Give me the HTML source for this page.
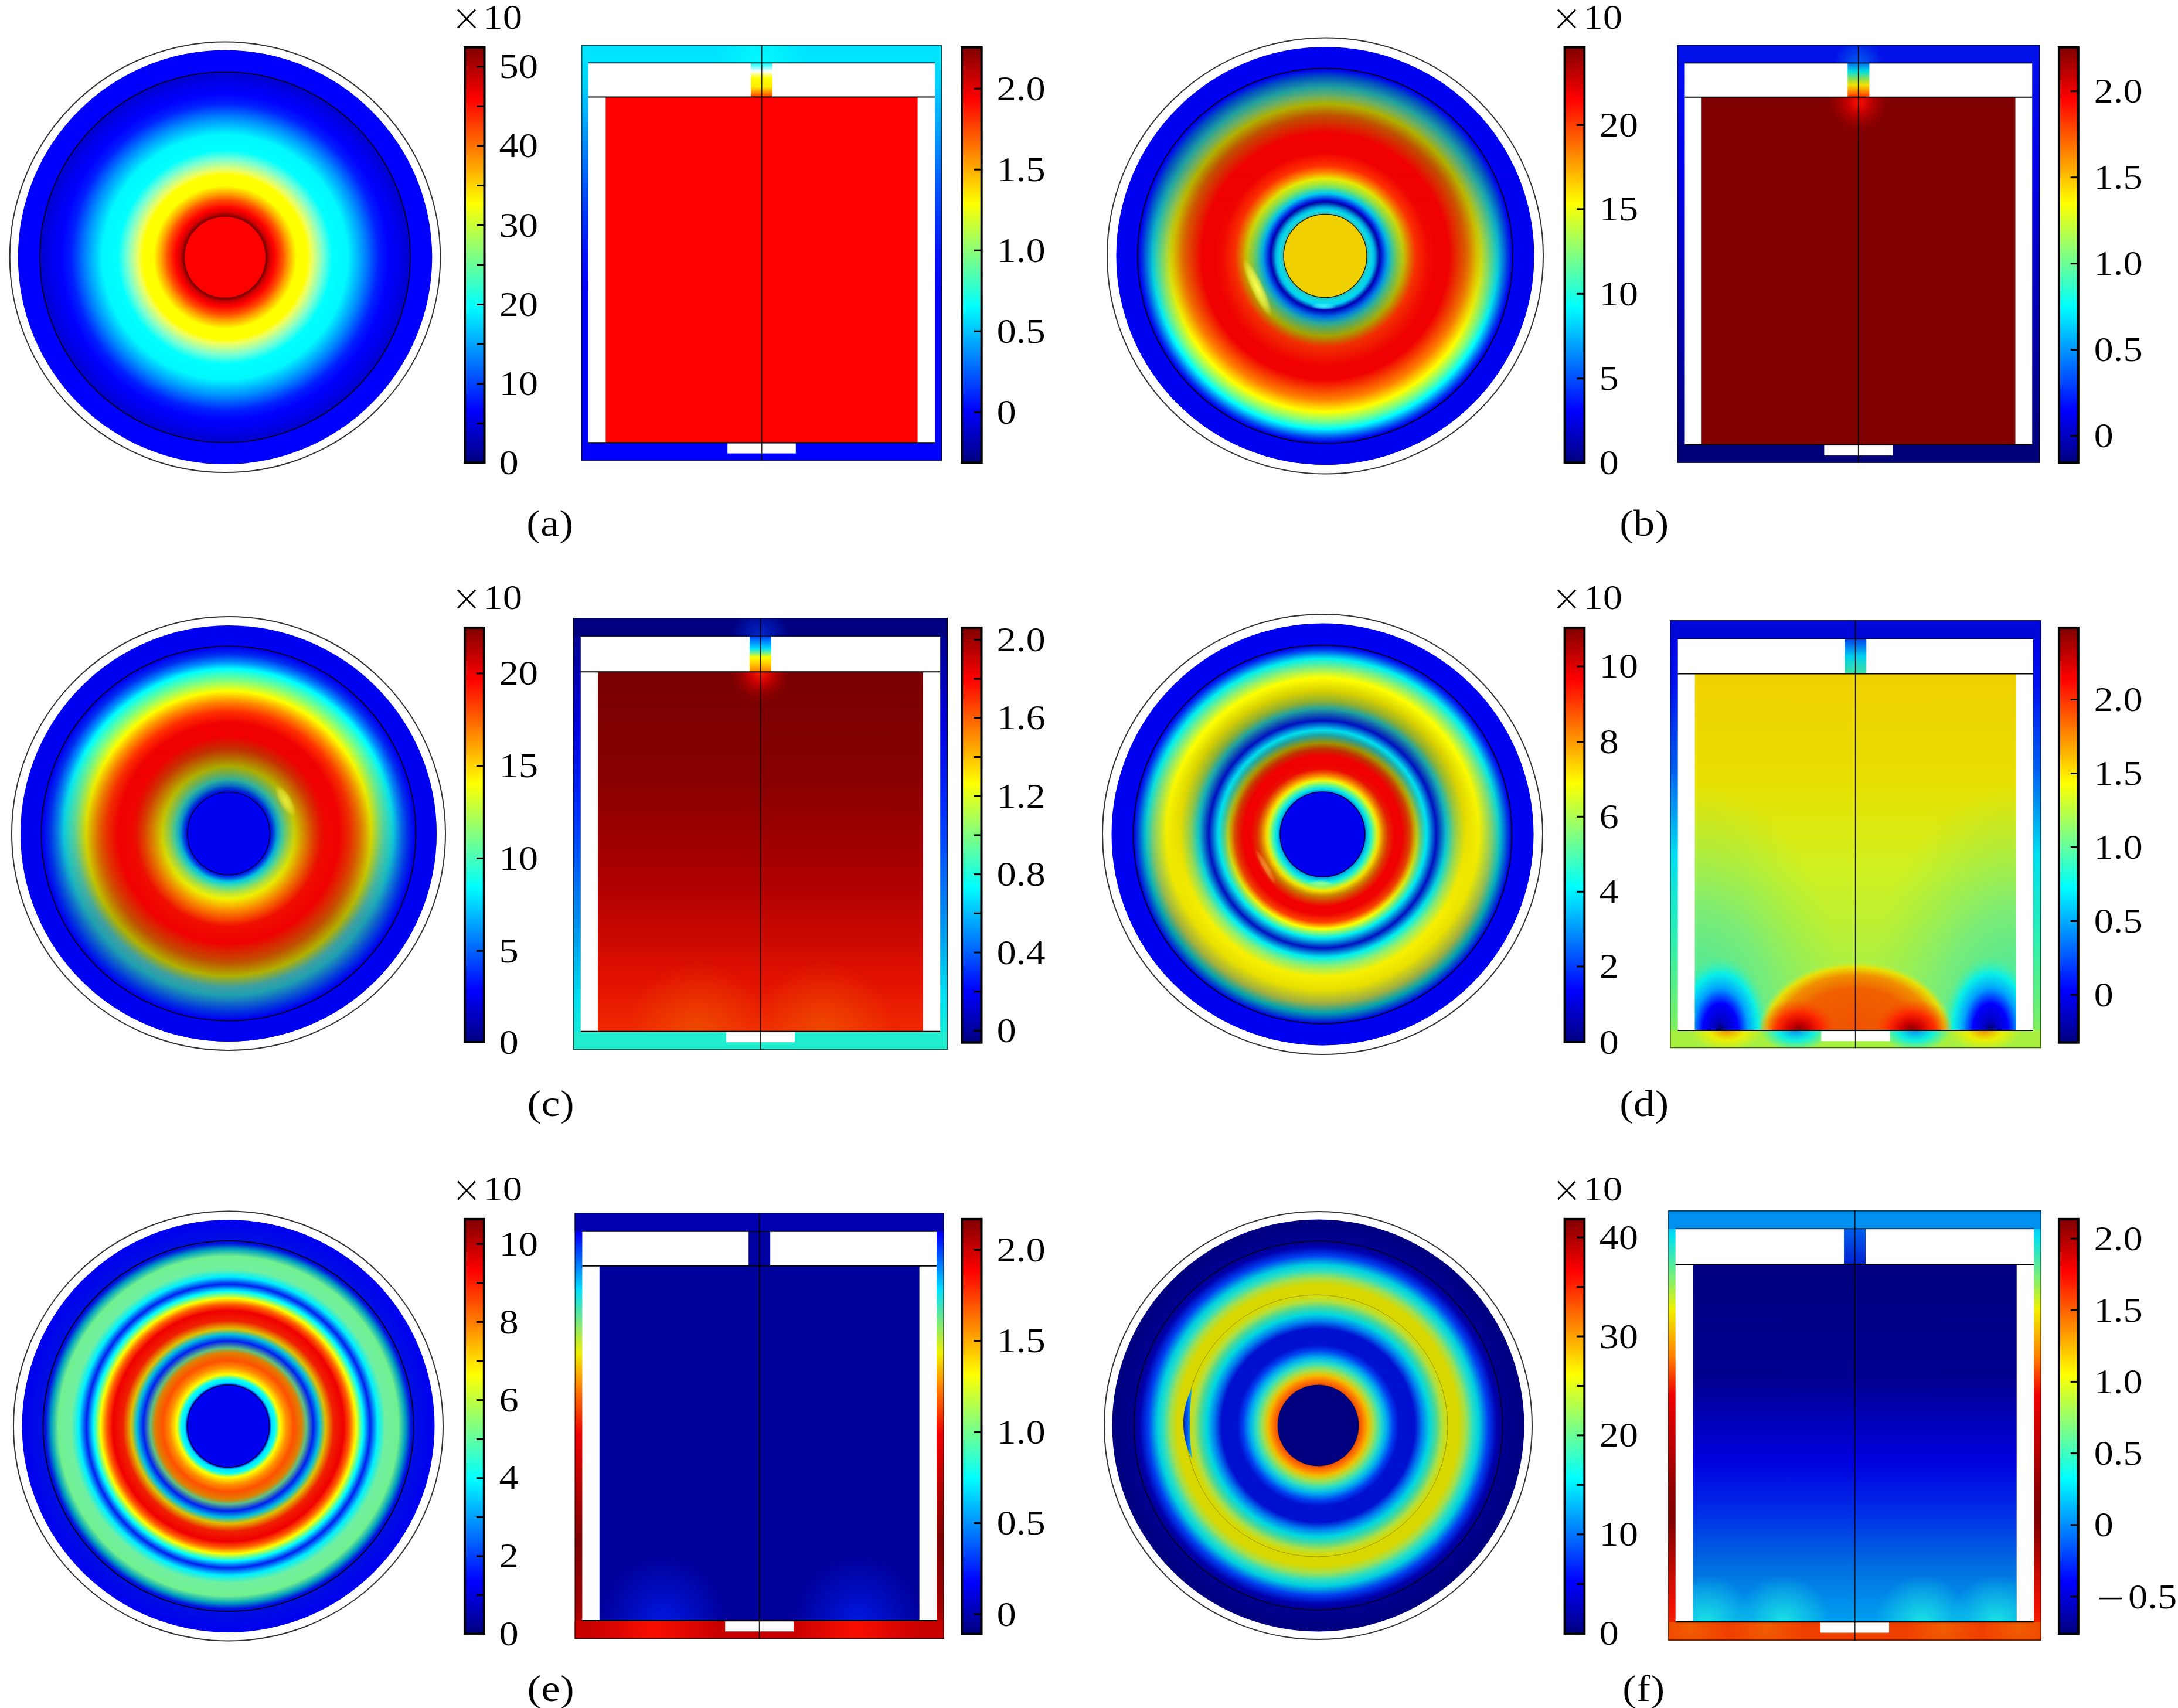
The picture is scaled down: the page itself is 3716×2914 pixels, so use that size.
<!DOCTYPE html>
<html><head><meta charset="utf-8"><style>
html,body{margin:0;padding:0;background:#fff;overflow:hidden;}
svg{display:block;}
text{font-family:"Liberation Serif",serif;fill:#000;stroke:#fff;stroke-width:0.2px;}
</style></head><body>
<svg width="3716" height="2914" viewBox="0 0 3716 2914">
<defs><radialGradient id="rg1" gradientUnits="userSpaceOnUse" cx="384" cy="438.8" r="353.3"><stop offset="0.0000" stop-color="#ff0000"/><stop offset="0.1967" stop-color="#700000"/><stop offset="0.2151" stop-color="#d00000"/><stop offset="0.2378" stop-color="#ff0000"/><stop offset="0.2774" stop-color="#ff5000"/><stop offset="0.3057" stop-color="#ffa000"/><stop offset="0.3453" stop-color="#ffff00"/><stop offset="0.3963" stop-color="#ffff00"/><stop offset="0.4189" stop-color="#f0ff60"/><stop offset="0.4699" stop-color="#80ffd0"/><stop offset="0.5180" stop-color="#00ffff"/><stop offset="0.5916" stop-color="#00f8ff"/><stop offset="0.6680" stop-color="#0090ff"/><stop offset="0.7416" stop-color="#0020ff"/><stop offset="0.7897" stop-color="#0000ff"/><stop offset="0.8491" stop-color="#0000e8"/><stop offset="0.8859" stop-color="#0000d0"/><stop offset="0.9029" stop-color="#0000ff"/><stop offset="1.0000" stop-color="#0000ff"/></radialGradient>
<linearGradient id="lg2" x1="0" y1="0" x2="0" y2="1"><stop offset="0.0000" stop-color="#800000"/><stop offset="0.0625" stop-color="#bf0000"/><stop offset="0.1250" stop-color="#ff0000"/><stop offset="0.1875" stop-color="#ff4000"/><stop offset="0.2500" stop-color="#ff8000"/><stop offset="0.3125" stop-color="#ffbf00"/><stop offset="0.3750" stop-color="#ffff00"/><stop offset="0.4375" stop-color="#bfff40"/><stop offset="0.5000" stop-color="#80ff80"/><stop offset="0.5625" stop-color="#40ffbf"/><stop offset="0.6250" stop-color="#00ffff"/><stop offset="0.6875" stop-color="#00bfff"/><stop offset="0.7500" stop-color="#0080ff"/><stop offset="0.8125" stop-color="#0040ff"/><stop offset="0.8750" stop-color="#0000ff"/><stop offset="0.9375" stop-color="#0000bf"/><stop offset="1.0000" stop-color="#000080"/></linearGradient>
<linearGradient id="lg3" x1="0" y1="0" x2="0" y2="1"><stop offset="0.0000" stop-color="#00e4ff"/><stop offset="0.0800" stop-color="#00d8ff"/><stop offset="0.2000" stop-color="#00a0ff"/><stop offset="0.3500" stop-color="#0050ff"/><stop offset="0.5000" stop-color="#0010ff"/><stop offset="0.6000" stop-color="#0000ff"/><stop offset="1.0000" stop-color="#0000ff"/></linearGradient>
<linearGradient id="lg4" x1="0" y1="0" x2="0" y2="1"><stop offset="0.0000" stop-color="#00ffff"/><stop offset="0.2500" stop-color="#ffffff"/><stop offset="0.4500" stop-color="#ffff00"/><stop offset="0.7000" stop-color="#ffee00"/><stop offset="1.0000" stop-color="#ff4000"/></linearGradient>
<clipPath id="clip5"><rect x="992" y="77" width="615" height="30.2"/></clipPath>
<radialGradient id="rg6" gradientUnits="userSpaceOnUse" cx="1299.5" cy="107.2" r="80"><stop offset="0.0000" stop-color="#00ffff" stop-opacity="0.8"/><stop offset="1.0000" stop-color="#00ffff" stop-opacity="0"/></radialGradient>
<linearGradient id="lg7" x1="0" y1="0" x2="0" y2="1"><stop offset="0.0000" stop-color="#800000"/><stop offset="0.0625" stop-color="#bf0000"/><stop offset="0.1250" stop-color="#ff0000"/><stop offset="0.1875" stop-color="#ff4000"/><stop offset="0.2500" stop-color="#ff8000"/><stop offset="0.3125" stop-color="#ffbf00"/><stop offset="0.3750" stop-color="#ffff00"/><stop offset="0.4375" stop-color="#bfff40"/><stop offset="0.5000" stop-color="#80ff80"/><stop offset="0.5625" stop-color="#40ffbf"/><stop offset="0.6250" stop-color="#00ffff"/><stop offset="0.6875" stop-color="#00bfff"/><stop offset="0.7500" stop-color="#0080ff"/><stop offset="0.8125" stop-color="#0040ff"/><stop offset="0.8750" stop-color="#0000ff"/><stop offset="0.9375" stop-color="#0000bf"/><stop offset="1.0000" stop-color="#000080"/></linearGradient>
<radialGradient id="rg8" gradientUnits="userSpaceOnUse" cx="2261" cy="436.5" r="356.5"><stop offset="0.0000" stop-color="#f0d000"/><stop offset="0.1964" stop-color="#f0d000"/><stop offset="0.2020" stop-color="#40c0c0"/><stop offset="0.2188" stop-color="#00e0f0"/><stop offset="0.2581" stop-color="#0000a0"/><stop offset="0.2693" stop-color="#0020f0"/><stop offset="0.3001" stop-color="#00e0f0"/><stop offset="0.3394" stop-color="#a0f040"/><stop offset="0.3703" stop-color="#f0f000"/><stop offset="0.3955" stop-color="#ff9000"/><stop offset="0.4320" stop-color="#ff3000"/><stop offset="0.4937" stop-color="#f00000"/><stop offset="0.5863" stop-color="#f00000"/><stop offset="0.6704" stop-color="#c05000"/><stop offset="0.7265" stop-color="#b0b000"/><stop offset="0.7630" stop-color="#70b060"/><stop offset="0.8079" stop-color="#20a0a0"/><stop offset="0.8583" stop-color="#0050c0"/><stop offset="0.8920" stop-color="#0000f0"/><stop offset="1.0000" stop-color="#0000f0"/></radialGradient>
<radialGradient id="rg9" gradientUnits="userSpaceOnUse" cx="2261" cy="436.5" r="356.5"><stop offset="0.0000" stop-color="#f0d000"/><stop offset="0.1964" stop-color="#f0d000"/><stop offset="0.2020" stop-color="#20c0c0"/><stop offset="0.2356" stop-color="#00f0ff"/><stop offset="0.2609" stop-color="#0000b0"/><stop offset="0.2917" stop-color="#0060e0"/><stop offset="0.3226" stop-color="#20a0a0"/><stop offset="0.3843" stop-color="#a0a000"/><stop offset="0.4348" stop-color="#f03000"/><stop offset="0.5302" stop-color="#f00000"/><stop offset="0.5919" stop-color="#f00000"/><stop offset="0.6872" stop-color="#ff8000"/><stop offset="0.7461" stop-color="#ffff00"/><stop offset="0.7910" stop-color="#80ff80"/><stop offset="0.8275" stop-color="#00ffff"/><stop offset="0.8724" stop-color="#0040f0"/><stop offset="0.8920" stop-color="#0000f0"/><stop offset="1.0000" stop-color="#0000f0"/></radialGradient>
<linearGradient id="mlg10" gradientUnits="userSpaceOnUse" x1="0" y1="286.5" x2="0" y2="586.5"><stop offset="0" stop-color="#fff" stop-opacity="0"/><stop offset="1" stop-color="#fff" stop-opacity="1"/></linearGradient>
<mask id="mask11" maskUnits="userSpaceOnUse" x="1904.5" y="80" width="713" height="713"><rect x="1904.5" y="80" width="713" height="713" fill="url(#mlg10)"/></mask>
<radialGradient id="rg12" gradientUnits="objectBoundingBox" cx="0.5" cy="0.5" r="0.5"><stop offset="0.0000" stop-color="#ffff50" stop-opacity="1"/><stop offset="0.6000" stop-color="#ffff50" stop-opacity="0.6"/><stop offset="1.0000" stop-color="#ffff50" stop-opacity="0"/></radialGradient>
<radialGradient id="rg13" gradientUnits="objectBoundingBox" cx="0.5" cy="0.5" r="0.5"><stop offset="0.0000" stop-color="#40f0ff" stop-opacity="0.95"/><stop offset="0.6000" stop-color="#40f0ff" stop-opacity="0.57"/><stop offset="1.0000" stop-color="#40f0ff" stop-opacity="0"/></radialGradient>
<linearGradient id="lg14" x1="0" y1="0" x2="0" y2="1"><stop offset="0.0000" stop-color="#800000"/><stop offset="0.0625" stop-color="#bf0000"/><stop offset="0.1250" stop-color="#ff0000"/><stop offset="0.1875" stop-color="#ff4000"/><stop offset="0.2500" stop-color="#ff8000"/><stop offset="0.3125" stop-color="#ffbf00"/><stop offset="0.3750" stop-color="#ffff00"/><stop offset="0.4375" stop-color="#bfff40"/><stop offset="0.5000" stop-color="#80ff80"/><stop offset="0.5625" stop-color="#40ffbf"/><stop offset="0.6250" stop-color="#00ffff"/><stop offset="0.6875" stop-color="#00bfff"/><stop offset="0.7500" stop-color="#0080ff"/><stop offset="0.8125" stop-color="#0040ff"/><stop offset="0.8750" stop-color="#0000ff"/><stop offset="0.9375" stop-color="#0000bf"/><stop offset="1.0000" stop-color="#000080"/></linearGradient>
<linearGradient id="lg15" x1="0" y1="0" x2="0" y2="1"><stop offset="0.0000" stop-color="#0010f0"/><stop offset="0.3000" stop-color="#0000e8"/><stop offset="0.6000" stop-color="#0000b8"/><stop offset="1.0000" stop-color="#000078"/></linearGradient>
<linearGradient id="lg16" x1="0" y1="0" x2="0" y2="1"><stop offset="0.0000" stop-color="#0070f0"/><stop offset="0.2500" stop-color="#00e0e0"/><stop offset="0.5000" stop-color="#a0e040"/><stop offset="0.6500" stop-color="#f0e000"/><stop offset="0.8500" stop-color="#ff8000"/><stop offset="1.0000" stop-color="#ff3000"/></linearGradient>
<clipPath id="clip17"><rect x="2861.7" y="76.9" width="618.3" height="30.5"/></clipPath>
<radialGradient id="rg18" gradientUnits="userSpaceOnUse" cx="3170.85" cy="107.4" r="42"><stop offset="0.0000" stop-color="#0070f0" stop-opacity="0.8"/><stop offset="1.0000" stop-color="#0070f0" stop-opacity="0"/></radialGradient>
<clipPath id="clip19"><rect x="2903.2" y="165.8" width="535.3" height="593"/></clipPath>
<radialGradient id="rg20" gradientUnits="userSpaceOnUse" cx="3170.85" cy="173.8" r="60"><stop offset="0.0000" stop-color="#ff1000" stop-opacity="1"/><stop offset="0.3500" stop-color="#d00000" stop-opacity="0.8"/><stop offset="1.0000" stop-color="#800000" stop-opacity="0"/></radialGradient>
<linearGradient id="lg21" x1="0" y1="0" x2="0" y2="1"><stop offset="0.0000" stop-color="#800000"/><stop offset="0.0625" stop-color="#bf0000"/><stop offset="0.1250" stop-color="#ff0000"/><stop offset="0.1875" stop-color="#ff4000"/><stop offset="0.2500" stop-color="#ff8000"/><stop offset="0.3125" stop-color="#ffbf00"/><stop offset="0.3750" stop-color="#ffff00"/><stop offset="0.4375" stop-color="#bfff40"/><stop offset="0.5000" stop-color="#80ff80"/><stop offset="0.5625" stop-color="#40ffbf"/><stop offset="0.6250" stop-color="#00ffff"/><stop offset="0.6875" stop-color="#00bfff"/><stop offset="0.7500" stop-color="#0080ff"/><stop offset="0.8125" stop-color="#0040ff"/><stop offset="0.8750" stop-color="#0000ff"/><stop offset="0.9375" stop-color="#0000bf"/><stop offset="1.0000" stop-color="#000080"/></linearGradient>
<radialGradient id="rg22" gradientUnits="userSpaceOnUse" cx="390" cy="1422" r="355"><stop offset="0.0000" stop-color="#0000f0"/><stop offset="0.1972" stop-color="#0000f0"/><stop offset="0.2085" stop-color="#0010d0"/><stop offset="0.2169" stop-color="#0020c0"/><stop offset="0.2592" stop-color="#20a0a0"/><stop offset="0.3239" stop-color="#a0a000"/><stop offset="0.4056" stop-color="#c03000"/><stop offset="0.4676" stop-color="#f00000"/><stop offset="0.5296" stop-color="#f00000"/><stop offset="0.5859" stop-color="#ff3000"/><stop offset="0.6366" stop-color="#ff9000"/><stop offset="0.6845" stop-color="#ffff00"/><stop offset="0.7352" stop-color="#80ff80"/><stop offset="0.7915" stop-color="#00ffff"/><stop offset="0.8225" stop-color="#0090ff"/><stop offset="0.8592" stop-color="#0030f0"/><stop offset="0.8930" stop-color="#0000f0"/><stop offset="1.0000" stop-color="#0000f0"/></radialGradient>
<radialGradient id="rg23" gradientUnits="userSpaceOnUse" cx="390" cy="1422" r="355"><stop offset="0.0000" stop-color="#0000f0"/><stop offset="0.1972" stop-color="#0000f0"/><stop offset="0.2085" stop-color="#0040f0"/><stop offset="0.2324" stop-color="#00f0f0"/><stop offset="0.2817" stop-color="#c0f040"/><stop offset="0.3141" stop-color="#ffff00"/><stop offset="0.3704" stop-color="#ff9000"/><stop offset="0.4451" stop-color="#f01000"/><stop offset="0.5268" stop-color="#f00000"/><stop offset="0.6197" stop-color="#c05000"/><stop offset="0.6845" stop-color="#b0b000"/><stop offset="0.7380" stop-color="#40a0a0"/><stop offset="0.7775" stop-color="#20a0b0"/><stop offset="0.8592" stop-color="#0030e0"/><stop offset="0.8930" stop-color="#0000f0"/><stop offset="1.0000" stop-color="#0000f0"/></radialGradient>
<linearGradient id="mlg24" gradientUnits="userSpaceOnUse" x1="0" y1="1272" x2="0" y2="1572"><stop offset="0" stop-color="#fff" stop-opacity="0"/><stop offset="1" stop-color="#fff" stop-opacity="1"/></linearGradient>
<mask id="mask25" maskUnits="userSpaceOnUse" x="35" y="1067" width="710" height="710"><rect x="35" y="1067" width="710" height="710" fill="url(#mlg24)"/></mask>
<radialGradient id="rg26" gradientUnits="objectBoundingBox" cx="0.5" cy="0.5" r="0.5"><stop offset="0.0000" stop-color="#f0f040" stop-opacity="0.9"/><stop offset="0.6000" stop-color="#f0f040" stop-opacity="0.54"/><stop offset="1.0000" stop-color="#f0f040" stop-opacity="0"/></radialGradient>
<linearGradient id="lg27" x1="0" y1="0" x2="0" y2="1"><stop offset="0.0000" stop-color="#800000"/><stop offset="0.0625" stop-color="#bf0000"/><stop offset="0.1250" stop-color="#ff0000"/><stop offset="0.1875" stop-color="#ff4000"/><stop offset="0.2500" stop-color="#ff8000"/><stop offset="0.3125" stop-color="#ffbf00"/><stop offset="0.3750" stop-color="#ffff00"/><stop offset="0.4375" stop-color="#bfff40"/><stop offset="0.5000" stop-color="#80ff80"/><stop offset="0.5625" stop-color="#40ffbf"/><stop offset="0.6250" stop-color="#00ffff"/><stop offset="0.6875" stop-color="#00bfff"/><stop offset="0.7500" stop-color="#0080ff"/><stop offset="0.8125" stop-color="#0040ff"/><stop offset="0.8750" stop-color="#0000ff"/><stop offset="0.9375" stop-color="#0000bf"/><stop offset="1.0000" stop-color="#000080"/></linearGradient>
<linearGradient id="lg28" x1="0" y1="0" x2="0" y2="1"><stop offset="0.0000" stop-color="#000080"/><stop offset="0.2500" stop-color="#0000e0"/><stop offset="0.4500" stop-color="#0030ff"/><stop offset="0.7000" stop-color="#0090f0"/><stop offset="0.8800" stop-color="#00e0f0"/><stop offset="1.0000" stop-color="#20f0d0"/></linearGradient>
<linearGradient id="lg29" x1="0" y1="0" x2="0" y2="1"><stop offset="0.0000" stop-color="#780000"/><stop offset="0.3000" stop-color="#880000"/><stop offset="0.6000" stop-color="#b00000"/><stop offset="0.8500" stop-color="#e01000"/><stop offset="1.0000" stop-color="#f02800"/></linearGradient>
<linearGradient id="lg30" x1="0" y1="0" x2="0" y2="1"><stop offset="0.0000" stop-color="#0040ff"/><stop offset="0.3500" stop-color="#00e0ff"/><stop offset="0.6000" stop-color="#ffff00"/><stop offset="1.0000" stop-color="#ff8000"/></linearGradient>
<clipPath id="clip31"><rect x="978" y="1054" width="639" height="31.6"/></clipPath>
<radialGradient id="rg32" gradientUnits="userSpaceOnUse" cx="1297.5" cy="1085.6" r="50"><stop offset="0.0000" stop-color="#0040ff" stop-opacity="0.6"/><stop offset="1.0000" stop-color="#0040ff" stop-opacity="0"/></radialGradient>
<clipPath id="clip33"><rect x="1020.2" y="1146.2" width="554.6" height="613.7"/></clipPath>
<radialGradient id="rg34" gradientUnits="userSpaceOnUse" cx="1297.5" cy="1146.2" r="55"><stop offset="0.0000" stop-color="#ff2000" stop-opacity="1"/><stop offset="0.3500" stop-color="#e00000" stop-opacity="0.8"/><stop offset="1.0000" stop-color="#900000" stop-opacity="0"/></radialGradient>
<radialGradient id="rg35" gradientUnits="userSpaceOnUse" cx="1190.2" cy="1759.9" r="120"><stop offset="0.0000" stop-color="#f06000" stop-opacity="0.6"/><stop offset="1.0000" stop-color="#f06000" stop-opacity="0"/></radialGradient>
<radialGradient id="rg36" gradientUnits="userSpaceOnUse" cx="1404.8" cy="1759.9" r="120"><stop offset="0.0000" stop-color="#f06000" stop-opacity="0.6"/><stop offset="1.0000" stop-color="#f06000" stop-opacity="0"/></radialGradient>
<linearGradient id="lg37" x1="0" y1="0" x2="0" y2="1"><stop offset="0.0000" stop-color="#800000"/><stop offset="0.0625" stop-color="#bf0000"/><stop offset="0.1250" stop-color="#ff0000"/><stop offset="0.1875" stop-color="#ff4000"/><stop offset="0.2500" stop-color="#ff8000"/><stop offset="0.3125" stop-color="#ffbf00"/><stop offset="0.3750" stop-color="#ffff00"/><stop offset="0.4375" stop-color="#bfff40"/><stop offset="0.5000" stop-color="#80ff80"/><stop offset="0.5625" stop-color="#40ffbf"/><stop offset="0.6250" stop-color="#00ffff"/><stop offset="0.6875" stop-color="#00bfff"/><stop offset="0.7500" stop-color="#0080ff"/><stop offset="0.8125" stop-color="#0040ff"/><stop offset="0.8750" stop-color="#0000ff"/><stop offset="0.9375" stop-color="#0000bf"/><stop offset="1.0000" stop-color="#000080"/></linearGradient>
<radialGradient id="rg38" gradientUnits="userSpaceOnUse" cx="2256.5" cy="1423.5" r="360"><stop offset="0.0000" stop-color="#0000f0"/><stop offset="0.2000" stop-color="#0000f0"/><stop offset="0.2056" stop-color="#00a0e0"/><stop offset="0.2167" stop-color="#00f0f0"/><stop offset="0.2542" stop-color="#ffff00"/><stop offset="0.2778" stop-color="#ff8000"/><stop offset="0.3111" stop-color="#f00000"/><stop offset="0.3722" stop-color="#f00000"/><stop offset="0.4028" stop-color="#c03000"/><stop offset="0.4333" stop-color="#a09000"/><stop offset="0.4694" stop-color="#20a0a0"/><stop offset="0.4944" stop-color="#00e0f0"/><stop offset="0.5389" stop-color="#0010c0"/><stop offset="0.5944" stop-color="#20a0a0"/><stop offset="0.6306" stop-color="#90b030"/><stop offset="0.6806" stop-color="#d8d000"/><stop offset="0.7417" stop-color="#ffff00"/><stop offset="0.7917" stop-color="#80f080"/><stop offset="0.8333" stop-color="#00f0f0"/><stop offset="0.8778" stop-color="#0030f0"/><stop offset="0.8944" stop-color="#0000f0"/><stop offset="1.0000" stop-color="#0000f0"/></radialGradient>
<radialGradient id="rg39" gradientUnits="userSpaceOnUse" cx="2256.5" cy="1423.5" r="360"><stop offset="0.0000" stop-color="#0000f0"/><stop offset="0.2000" stop-color="#0000f0"/><stop offset="0.2056" stop-color="#00a0e0"/><stop offset="0.2306" stop-color="#00f0f0"/><stop offset="0.2667" stop-color="#f0f000"/><stop offset="0.2917" stop-color="#c09000"/><stop offset="0.3417" stop-color="#f00000"/><stop offset="0.3778" stop-color="#f00000"/><stop offset="0.4167" stop-color="#ff4000"/><stop offset="0.4472" stop-color="#ffff00"/><stop offset="0.4903" stop-color="#00f0f0"/><stop offset="0.5389" stop-color="#0010c0"/><stop offset="0.5833" stop-color="#00f0f0"/><stop offset="0.6250" stop-color="#90f070"/><stop offset="0.6750" stop-color="#f8f000"/><stop offset="0.7361" stop-color="#e8e000"/><stop offset="0.8000" stop-color="#a0b040"/><stop offset="0.8472" stop-color="#00a0b0"/><stop offset="0.8833" stop-color="#0030d0"/><stop offset="0.8944" stop-color="#0000f0"/><stop offset="1.0000" stop-color="#0000f0"/></radialGradient>
<linearGradient id="mlg40" gradientUnits="userSpaceOnUse" x1="0" y1="1273.5" x2="0" y2="1573.5"><stop offset="0" stop-color="#fff" stop-opacity="0"/><stop offset="1" stop-color="#fff" stop-opacity="1"/></linearGradient>
<mask id="mask41" maskUnits="userSpaceOnUse" x="1896.5" y="1063.5" width="720" height="720"><rect x="1896.5" y="1063.5" width="720" height="720" fill="url(#mlg40)"/></mask>
<radialGradient id="rg42" gradientUnits="objectBoundingBox" cx="0.5" cy="0.5" r="0.5"><stop offset="0.0000" stop-color="#a0ff80" stop-opacity="0.9"/><stop offset="0.6000" stop-color="#a0ff80" stop-opacity="0.54"/><stop offset="1.0000" stop-color="#a0ff80" stop-opacity="0"/></radialGradient>
<radialGradient id="rg43" gradientUnits="objectBoundingBox" cx="0.5" cy="0.5" r="0.5"><stop offset="0.0000" stop-color="#ffb040" stop-opacity="0.7"/><stop offset="0.6000" stop-color="#ffb040" stop-opacity="0.42"/><stop offset="1.0000" stop-color="#ffb040" stop-opacity="0"/></radialGradient>
<linearGradient id="lg44" x1="0" y1="0" x2="0" y2="1"><stop offset="0.0000" stop-color="#800000"/><stop offset="0.0625" stop-color="#bf0000"/><stop offset="0.1250" stop-color="#ff0000"/><stop offset="0.1875" stop-color="#ff4000"/><stop offset="0.2500" stop-color="#ff8000"/><stop offset="0.3125" stop-color="#ffbf00"/><stop offset="0.3750" stop-color="#ffff00"/><stop offset="0.4375" stop-color="#bfff40"/><stop offset="0.5000" stop-color="#80ff80"/><stop offset="0.5625" stop-color="#40ffbf"/><stop offset="0.6250" stop-color="#00ffff"/><stop offset="0.6875" stop-color="#00bfff"/><stop offset="0.7500" stop-color="#0080ff"/><stop offset="0.8125" stop-color="#0040ff"/><stop offset="0.8750" stop-color="#0000ff"/><stop offset="0.9375" stop-color="#0000bf"/><stop offset="1.0000" stop-color="#000080"/></linearGradient>
<linearGradient id="lg45" x1="0" y1="0" x2="0" y2="1"><stop offset="0.0000" stop-color="#0000e0"/><stop offset="0.1500" stop-color="#0010f0"/><stop offset="0.3500" stop-color="#0060f0"/><stop offset="0.5500" stop-color="#00e0f0"/><stop offset="0.7500" stop-color="#30f0b0"/><stop offset="1.0000" stop-color="#90f050"/></linearGradient>
<linearGradient id="lg46" x1="0" y1="0" x2="0" y2="1"><stop offset="0.0000" stop-color="#f0d000"/><stop offset="0.3000" stop-color="#e8e000"/><stop offset="0.5500" stop-color="#d0f020"/><stop offset="0.8000" stop-color="#b0f040"/><stop offset="1.0000" stop-color="#a0f050"/></linearGradient>
<linearGradient id="lg47" x1="0" y1="0" x2="0" y2="1"><stop offset="0.0000" stop-color="#0040f0"/><stop offset="0.5000" stop-color="#00d0f0"/><stop offset="1.0000" stop-color="#40e0a0"/></linearGradient>
<clipPath id="clip48"><rect x="2849.1" y="1758" width="633.4" height="30.2"/></clipPath>
<radialGradient id="rg49" gradientUnits="objectBoundingBox" cx="0.5" cy="0.5" r="0.5"><stop offset="0.0000" stop-color="#f09000" stop-opacity="1"/><stop offset="0.5000" stop-color="#f0f000" stop-opacity="0.9"/><stop offset="1.0000" stop-color="#f0f000" stop-opacity="0"/></radialGradient>
<radialGradient id="rg50" gradientUnits="objectBoundingBox" cx="0.5" cy="0.5" r="0.5"><stop offset="0.0000" stop-color="#f09000" stop-opacity="1"/><stop offset="0.5000" stop-color="#f0f000" stop-opacity="0.9"/><stop offset="1.0000" stop-color="#f0f000" stop-opacity="0"/></radialGradient>
<radialGradient id="rg51" gradientUnits="objectBoundingBox" cx="0.5" cy="0.5" r="0.5"><stop offset="0.0000" stop-color="#0090f0" stop-opacity="1"/><stop offset="0.5000" stop-color="#00f0f0" stop-opacity="0.9"/><stop offset="1.0000" stop-color="#00f0f0" stop-opacity="0"/></radialGradient>
<radialGradient id="rg52" gradientUnits="objectBoundingBox" cx="0.5" cy="0.5" r="0.5"><stop offset="0.0000" stop-color="#0090f0" stop-opacity="1"/><stop offset="0.5000" stop-color="#00f0f0" stop-opacity="0.9"/><stop offset="1.0000" stop-color="#00f0f0" stop-opacity="0"/></radialGradient>
<clipPath id="clip53"><rect x="2891.7" y="1149.5" width="548.2" height="608.5"/></clipPath>
<radialGradient id="rg54" gradientUnits="objectBoundingBox" cx="0.5" cy="0.5" r="0.5"><stop offset="0.0000" stop-color="#20e8c0" stop-opacity="0.9"/><stop offset="0.5000" stop-color="#50e8a0" stop-opacity="0.6"/><stop offset="1.0000" stop-color="#80f060" stop-opacity="0"/></radialGradient>
<radialGradient id="rg55" gradientUnits="objectBoundingBox" cx="0.5" cy="0.5" r="0.5"><stop offset="0.0000" stop-color="#20e8c0" stop-opacity="0.9"/><stop offset="0.5000" stop-color="#50e8a0" stop-opacity="0.6"/><stop offset="1.0000" stop-color="#80f060" stop-opacity="0"/></radialGradient>
<radialGradient id="rg56" gradientUnits="objectBoundingBox" cx="0.5" cy="0.5" r="0.5"><stop offset="0.0000" stop-color="#000060" stop-opacity="1"/><stop offset="0.1200" stop-color="#0000c0" stop-opacity="1"/><stop offset="0.3500" stop-color="#0000ff" stop-opacity="1"/><stop offset="0.5500" stop-color="#00a0ff" stop-opacity="1"/><stop offset="0.7500" stop-color="#00f0f0" stop-opacity="0.9"/><stop offset="1.0000" stop-color="#60f090" stop-opacity="0"/></radialGradient>
<radialGradient id="rg57" gradientUnits="objectBoundingBox" cx="0.5" cy="0.5" r="0.5"><stop offset="0.0000" stop-color="#000060" stop-opacity="1"/><stop offset="0.1200" stop-color="#0000c0" stop-opacity="1"/><stop offset="0.3500" stop-color="#0000ff" stop-opacity="1"/><stop offset="0.5500" stop-color="#00a0ff" stop-opacity="1"/><stop offset="0.7500" stop-color="#00f0f0" stop-opacity="0.9"/><stop offset="1.0000" stop-color="#60f090" stop-opacity="0"/></radialGradient>
<radialGradient id="rg58" gradientUnits="objectBoundingBox" cx="0.5" cy="0.5" r="0.5"><stop offset="0.0000" stop-color="#f05000" stop-opacity="1"/><stop offset="0.6000" stop-color="#f06000" stop-opacity="1"/><stop offset="0.8000" stop-color="#f09000" stop-opacity="1"/><stop offset="0.9200" stop-color="#f0e000" stop-opacity="0.9"/><stop offset="1.0000" stop-color="#c0f040" stop-opacity="0"/></radialGradient>
<radialGradient id="rg59" gradientUnits="objectBoundingBox" cx="0.5" cy="0.5" r="0.5"><stop offset="0.0000" stop-color="#800000" stop-opacity="1"/><stop offset="0.2500" stop-color="#d00000" stop-opacity="1"/><stop offset="0.5500" stop-color="#ff2000" stop-opacity="0.9"/><stop offset="1.0000" stop-color="#f06000" stop-opacity="0"/></radialGradient>
<radialGradient id="rg60" gradientUnits="objectBoundingBox" cx="0.5" cy="0.5" r="0.5"><stop offset="0.0000" stop-color="#800000" stop-opacity="1"/><stop offset="0.2500" stop-color="#d00000" stop-opacity="1"/><stop offset="0.5500" stop-color="#ff2000" stop-opacity="0.9"/><stop offset="1.0000" stop-color="#f06000" stop-opacity="0"/></radialGradient>
<linearGradient id="lg61" x1="0" y1="0" x2="0" y2="1"><stop offset="0.0000" stop-color="#800000"/><stop offset="0.0625" stop-color="#bf0000"/><stop offset="0.1250" stop-color="#ff0000"/><stop offset="0.1875" stop-color="#ff4000"/><stop offset="0.2500" stop-color="#ff8000"/><stop offset="0.3125" stop-color="#ffbf00"/><stop offset="0.3750" stop-color="#ffff00"/><stop offset="0.4375" stop-color="#bfff40"/><stop offset="0.5000" stop-color="#80ff80"/><stop offset="0.5625" stop-color="#40ffbf"/><stop offset="0.6250" stop-color="#00ffff"/><stop offset="0.6875" stop-color="#00bfff"/><stop offset="0.7500" stop-color="#0080ff"/><stop offset="0.8125" stop-color="#0040ff"/><stop offset="0.8750" stop-color="#0000ff"/><stop offset="0.9375" stop-color="#0000bf"/><stop offset="1.0000" stop-color="#000080"/></linearGradient>
<radialGradient id="rg62" gradientUnits="userSpaceOnUse" cx="389.5" cy="2433" r="352"><stop offset="0.0000" stop-color="#0000f0"/><stop offset="0.1989" stop-color="#0000f0"/><stop offset="0.2102" stop-color="#00e0ff"/><stop offset="0.2273" stop-color="#00ffff"/><stop offset="0.2500" stop-color="#ffff00"/><stop offset="0.2841" stop-color="#ff9000"/><stop offset="0.3182" stop-color="#ff5000"/><stop offset="0.3551" stop-color="#e08000"/><stop offset="0.3778" stop-color="#60c080"/><stop offset="0.4119" stop-color="#0020f0"/><stop offset="0.4432" stop-color="#00c0e0"/><stop offset="0.4716" stop-color="#e0c000"/><stop offset="0.5114" stop-color="#f02000"/><stop offset="0.5597" stop-color="#f00000"/><stop offset="0.5909" stop-color="#ff6000"/><stop offset="0.6193" stop-color="#ffff00"/><stop offset="0.6534" stop-color="#00ffff"/><stop offset="0.6875" stop-color="#0020f0"/><stop offset="0.7244" stop-color="#00f0ff"/><stop offset="0.7614" stop-color="#70f0a0"/><stop offset="0.8239" stop-color="#70f090"/><stop offset="0.8580" stop-color="#00a0c0"/><stop offset="0.8864" stop-color="#0010e0"/><stop offset="1.0000" stop-color="#0000f0"/></radialGradient>
<linearGradient id="lg63" x1="0" y1="0" x2="0" y2="1"><stop offset="0.0000" stop-color="#800000"/><stop offset="0.0625" stop-color="#bf0000"/><stop offset="0.1250" stop-color="#ff0000"/><stop offset="0.1875" stop-color="#ff4000"/><stop offset="0.2500" stop-color="#ff8000"/><stop offset="0.3125" stop-color="#ffbf00"/><stop offset="0.3750" stop-color="#ffff00"/><stop offset="0.4375" stop-color="#bfff40"/><stop offset="0.5000" stop-color="#80ff80"/><stop offset="0.5625" stop-color="#40ffbf"/><stop offset="0.6250" stop-color="#00ffff"/><stop offset="0.6875" stop-color="#00bfff"/><stop offset="0.7500" stop-color="#0080ff"/><stop offset="0.8125" stop-color="#0040ff"/><stop offset="0.8750" stop-color="#0000ff"/><stop offset="0.9375" stop-color="#0000bf"/><stop offset="1.0000" stop-color="#000080"/></linearGradient>
<linearGradient id="lg64" x1="0" y1="0" x2="0" y2="1"><stop offset="0.0000" stop-color="#0000b0"/><stop offset="0.0500" stop-color="#0000ff"/><stop offset="0.1800" stop-color="#00e0ff"/><stop offset="0.3300" stop-color="#f0f000"/><stop offset="0.4100" stop-color="#ff8000"/><stop offset="0.5200" stop-color="#f00000"/><stop offset="0.7700" stop-color="#800000"/><stop offset="0.9200" stop-color="#a00000"/><stop offset="1.0000" stop-color="#c00000"/></linearGradient>
<clipPath id="clip65"><rect x="980.6" y="2765" width="630.2" height="30.9"/></clipPath>
<radialGradient id="rg66" gradientUnits="userSpaceOnUse" cx="1115.7" cy="2780.45" r="110"><stop offset="0.0000" stop-color="#ff1000" stop-opacity="0.9"/><stop offset="1.0000" stop-color="#ff1000" stop-opacity="0"/></radialGradient>
<radialGradient id="rg67" gradientUnits="userSpaceOnUse" cx="1460.7" cy="2780.45" r="110"><stop offset="0.0000" stop-color="#ff1000" stop-opacity="0.9"/><stop offset="1.0000" stop-color="#ff1000" stop-opacity="0"/></radialGradient>
<clipPath id="clip68"><rect x="1022.8" y="2159.8" width="545.8" height="605.2"/></clipPath>
<radialGradient id="rg69" gradientUnits="userSpaceOnUse" cx="1130.8" cy="2765" r="110"><stop offset="0.0000" stop-color="#0020ff" stop-opacity="0.7"/><stop offset="1.0000" stop-color="#0020ff" stop-opacity="0"/></radialGradient>
<radialGradient id="rg70" gradientUnits="userSpaceOnUse" cx="1464.6" cy="2765" r="110"><stop offset="0.0000" stop-color="#0020ff" stop-opacity="0.7"/><stop offset="1.0000" stop-color="#0020ff" stop-opacity="0"/></radialGradient>
<linearGradient id="lg71" x1="0" y1="0" x2="0" y2="1"><stop offset="0.0000" stop-color="#800000"/><stop offset="0.0625" stop-color="#bf0000"/><stop offset="0.1250" stop-color="#ff0000"/><stop offset="0.1875" stop-color="#ff4000"/><stop offset="0.2500" stop-color="#ff8000"/><stop offset="0.3125" stop-color="#ffbf00"/><stop offset="0.3750" stop-color="#ffff00"/><stop offset="0.4375" stop-color="#bfff40"/><stop offset="0.5000" stop-color="#80ff80"/><stop offset="0.5625" stop-color="#40ffbf"/><stop offset="0.6250" stop-color="#00ffff"/><stop offset="0.6875" stop-color="#00bfff"/><stop offset="0.7500" stop-color="#0080ff"/><stop offset="0.8125" stop-color="#0040ff"/><stop offset="0.8750" stop-color="#0000ff"/><stop offset="0.9375" stop-color="#0000bf"/><stop offset="1.0000" stop-color="#000080"/></linearGradient>
<radialGradient id="rg72" gradientUnits="userSpaceOnUse" cx="2249" cy="2432" r="351.5"><stop offset="0.0000" stop-color="#000080"/><stop offset="0.1952" stop-color="#000080"/><stop offset="0.1991" stop-color="#f05000"/><stop offset="0.2219" stop-color="#ff8000"/><stop offset="0.2447" stop-color="#f0c000"/><stop offset="0.2703" stop-color="#a0e050"/><stop offset="0.3016" stop-color="#30e0c0"/><stop offset="0.3300" stop-color="#00b0f0"/><stop offset="0.3642" stop-color="#0040f0"/><stop offset="0.3926" stop-color="#0010d0"/><stop offset="0.4694" stop-color="#0010d0"/><stop offset="0.5064" stop-color="#0080f0"/><stop offset="0.5405" stop-color="#00d8e0"/><stop offset="0.5690" stop-color="#40d8a0"/><stop offset="0.6031" stop-color="#b0e040"/><stop offset="0.6316" stop-color="#d8d800"/><stop offset="0.6828" stop-color="#d8d800"/><stop offset="0.7169" stop-color="#a0e050"/><stop offset="0.7511" stop-color="#30e0c0"/><stop offset="0.7795" stop-color="#00d0e0"/><stop offset="0.8250" stop-color="#0040f0"/><stop offset="0.8677" stop-color="#0000b0"/><stop offset="0.8933" stop-color="#000090"/><stop offset="1.0000" stop-color="#000080"/></radialGradient>
<linearGradient id="lg73" x1="0" y1="0" x2="1" y2="0"><stop offset="0.0000" stop-color="#0020c0"/><stop offset="0.5000" stop-color="#0060f0"/><stop offset="1.0000" stop-color="#20c0e0"/></linearGradient>
<linearGradient id="lg74" x1="0" y1="0" x2="0" y2="1"><stop offset="0.0000" stop-color="#800000"/><stop offset="0.0625" stop-color="#bf0000"/><stop offset="0.1250" stop-color="#ff0000"/><stop offset="0.1875" stop-color="#ff4000"/><stop offset="0.2500" stop-color="#ff8000"/><stop offset="0.3125" stop-color="#ffbf00"/><stop offset="0.3750" stop-color="#ffff00"/><stop offset="0.4375" stop-color="#bfff40"/><stop offset="0.5000" stop-color="#80ff80"/><stop offset="0.5625" stop-color="#40ffbf"/><stop offset="0.6250" stop-color="#00ffff"/><stop offset="0.6875" stop-color="#00bfff"/><stop offset="0.7500" stop-color="#0080ff"/><stop offset="0.8125" stop-color="#0040ff"/><stop offset="0.8750" stop-color="#0000ff"/><stop offset="0.9375" stop-color="#0000bf"/><stop offset="1.0000" stop-color="#000080"/></linearGradient>
<linearGradient id="lg75" x1="0" y1="0" x2="0" y2="1"><stop offset="0.0000" stop-color="#0090f0"/><stop offset="0.0600" stop-color="#00e0f0"/><stop offset="0.1600" stop-color="#80f070"/><stop offset="0.2300" stop-color="#f0f000"/><stop offset="0.3400" stop-color="#ff8000"/><stop offset="0.4300" stop-color="#f00000"/><stop offset="0.6500" stop-color="#900000"/><stop offset="0.7200" stop-color="#800000"/><stop offset="0.9200" stop-color="#f01000"/><stop offset="1.0000" stop-color="#f03000"/></linearGradient>
<linearGradient id="lg76" x1="0" y1="0" x2="0" y2="1"><stop offset="0.0000" stop-color="#000080"/><stop offset="0.3200" stop-color="#000090"/><stop offset="0.5500" stop-color="#0000e0"/><stop offset="0.7000" stop-color="#0030e8"/><stop offset="0.8500" stop-color="#0070e0"/><stop offset="1.0000" stop-color="#00a0f0"/></linearGradient>
<linearGradient id="lg77" x1="0" y1="0" x2="0" y2="1"><stop offset="0.0000" stop-color="#0060f0"/><stop offset="1.0000" stop-color="#0020d0"/></linearGradient>
<clipPath id="clip78"><rect x="2846.2" y="2767.2" width="636.7" height="31.6"/></clipPath>
<radialGradient id="rg79" gradientUnits="userSpaceOnUse" cx="2884.55" cy="2775.2" r="60"><stop offset="0.0000" stop-color="#f07000" stop-opacity="0.6"/><stop offset="1.0000" stop-color="#f07000" stop-opacity="0"/></radialGradient>
<radialGradient id="rg80" gradientUnits="userSpaceOnUse" cx="3014.55" cy="2775.2" r="60"><stop offset="0.0000" stop-color="#f07000" stop-opacity="0.6"/><stop offset="1.0000" stop-color="#f07000" stop-opacity="0"/></radialGradient>
<radialGradient id="rg81" gradientUnits="userSpaceOnUse" cx="3314.55" cy="2775.2" r="60"><stop offset="0.0000" stop-color="#f07000" stop-opacity="0.6"/><stop offset="1.0000" stop-color="#f07000" stop-opacity="0"/></radialGradient>
<radialGradient id="rg82" gradientUnits="userSpaceOnUse" cx="3444.55" cy="2775.2" r="60"><stop offset="0.0000" stop-color="#f07000" stop-opacity="0.6"/><stop offset="1.0000" stop-color="#f07000" stop-opacity="0"/></radialGradient>
<clipPath id="clip83"><rect x="2888.4" y="2156.9" width="552.3" height="610.3"/></clipPath>
<radialGradient id="rg84" gradientUnits="userSpaceOnUse" cx="2911" cy="2767.2" r="80"><stop offset="0.0000" stop-color="#20f0e0" stop-opacity="0.8"/><stop offset="1.0000" stop-color="#20f0e0" stop-opacity="0"/></radialGradient>
<radialGradient id="rg85" gradientUnits="userSpaceOnUse" cx="3042" cy="2767.2" r="80"><stop offset="0.0000" stop-color="#20f0e0" stop-opacity="0.8"/><stop offset="1.0000" stop-color="#20f0e0" stop-opacity="0"/></radialGradient>
<radialGradient id="rg86" gradientUnits="userSpaceOnUse" cx="3279.6" cy="2767.2" r="80"><stop offset="0.0000" stop-color="#20f0e0" stop-opacity="0.8"/><stop offset="1.0000" stop-color="#20f0e0" stop-opacity="0"/></radialGradient>
<radialGradient id="rg87" gradientUnits="userSpaceOnUse" cx="3407" cy="2767.2" r="80"><stop offset="0.0000" stop-color="#20f0e0" stop-opacity="0.8"/><stop offset="1.0000" stop-color="#20f0e0" stop-opacity="0"/></radialGradient>
<linearGradient id="lg88" x1="0" y1="0" x2="0" y2="1"><stop offset="0.0000" stop-color="#800000"/><stop offset="0.0625" stop-color="#bf0000"/><stop offset="0.1250" stop-color="#ff0000"/><stop offset="0.1875" stop-color="#ff4000"/><stop offset="0.2500" stop-color="#ff8000"/><stop offset="0.3125" stop-color="#ffbf00"/><stop offset="0.3750" stop-color="#ffff00"/><stop offset="0.4375" stop-color="#bfff40"/><stop offset="0.5000" stop-color="#80ff80"/><stop offset="0.5625" stop-color="#40ffbf"/><stop offset="0.6250" stop-color="#00ffff"/><stop offset="0.6875" stop-color="#00bfff"/><stop offset="0.7500" stop-color="#0080ff"/><stop offset="0.8125" stop-color="#0040ff"/><stop offset="0.8750" stop-color="#0000ff"/><stop offset="0.9375" stop-color="#0000bf"/><stop offset="1.0000" stop-color="#000080"/></linearGradient></defs>
<circle cx="384" cy="438.8" r="367.3" fill="#fff" stroke="#333" stroke-width="2"/>
<circle cx="384" cy="438.8" r="353.3" fill="url(#rg1)"/>
<circle cx="384" cy="438.8" r="316" fill="none" stroke="#000" stroke-opacity="0.8" stroke-width="2"/>
<circle cx="384" cy="438.8" r="69.5" fill="#ff0000" stroke="#800000" stroke-opacity="0.85" stroke-width="1.4"/>
<rect x="793" y="81" width="33.5" height="708" fill="url(#lg2)" stroke="#000" stroke-width="4"/>
<rect x="813.5" y="112.1" width="13" height="3" fill="#000"/>
<rect x="813.5" y="179.75" width="13" height="3" fill="#000"/>
<rect x="813.5" y="247.4" width="13" height="3" fill="#000"/>
<rect x="813.5" y="315.05" width="13" height="3" fill="#000"/>
<rect x="813.5" y="382.7" width="13" height="3" fill="#000"/>
<rect x="813.5" y="450.35" width="13" height="3" fill="#000"/>
<rect x="813.5" y="518" width="13" height="3" fill="#000"/>
<rect x="813.5" y="585.65" width="13" height="3" fill="#000"/>
<rect x="813.5" y="653.3" width="13" height="3" fill="#000"/>
<rect x="813.5" y="720.95" width="13" height="3" fill="#000"/>
<text transform="translate(851.5 133.1) scale(1.13 1)" font-size="59">50</text>
<text transform="translate(851.5 268.4) scale(1.13 1)" font-size="59">40</text>
<text transform="translate(851.5 403.7) scale(1.13 1)" font-size="59">30</text>
<text transform="translate(851.5 539) scale(1.13 1)" font-size="59">20</text>
<text transform="translate(851.5 674.3) scale(1.13 1)" font-size="59">10</text>
<text transform="translate(851.5 808.5) scale(1.13 1)" font-size="59">0</text>
<path d="M781 16.5L811 47.5M811 16.5L781 47.5" stroke="#000" stroke-width="2.8" fill="none"/>
<text transform="translate(824.5 49) scale(1.13 1)" font-size="59">10</text>
<rect x="992" y="77" width="615" height="708.6" fill="url(#lg3)"/>
<rect x="992" y="77" width="615" height="30.2" fill="#00e4ff"/>
<circle cx="1299.5" cy="107.2" r="80" fill="url(#rg6)" clip-path="url(#clip5)"/>
<rect x="992" y="755.3" width="615" height="30.3" fill="#0000ff"/>
<rect x="1003.6" y="107.2" width="591.8" height="648.1" fill="#fff"/>
<rect x="1281.15" y="107.2" width="36.7" height="58.4" fill="url(#lg4)"/>
<rect x="1033.4" y="165.6" width="532.2" height="589.7" fill="#ff0000"/>
<path d="M1003.6 107.2H1595.4" stroke="#000" stroke-opacity="0.7" stroke-width="2"/>
<path d="M1003.6 165.6H1595.4" stroke="#000" stroke-width="2"/>
<path d="M1003.6 755.3H1595.4" stroke="#000" stroke-width="2.2"/>
<rect x="1241.2" y="756.6" width="116.6" height="17" fill="#fff"/>
<rect x="992.8" y="77.8" width="613.4" height="707" fill="none" stroke="#000" stroke-opacity="0.6" stroke-width="1.6"/>
<path d="M1299.5 77V785.6" stroke="#000" stroke-opacity="0.85" stroke-width="2"/>
<rect x="1641" y="81" width="33.7" height="708" fill="url(#lg7)" stroke="#000" stroke-width="4"/>
<rect x="1661.7" y="701.7" width="13" height="3" fill="#000"/>
<rect x="1661.7" y="563.7" width="13" height="3" fill="#000"/>
<rect x="1661.7" y="425.7" width="13" height="3" fill="#000"/>
<rect x="1661.7" y="287.7" width="13" height="3" fill="#000"/>
<rect x="1661.7" y="149.7" width="13" height="3" fill="#000"/>
<text transform="translate(1700.5 722.7) scale(1.13 1)" font-size="59">0</text>
<text transform="translate(1700.5 584.7) scale(1.13 1)" font-size="59">0.5</text>
<text transform="translate(1700.5 446.7) scale(1.13 1)" font-size="59">1.0</text>
<text transform="translate(1700.5 308.7) scale(1.13 1)" font-size="59">1.5</text>
<text transform="translate(1700.5 170.7) scale(1.13 1)" font-size="59">2.0</text>
<text transform="translate(898 914) scale(1.13 1)" font-size="64">(a)</text>
<circle cx="2261" cy="436.5" r="372" fill="#fff" stroke="#333" stroke-width="2"/>
<circle cx="2261" cy="436.5" r="356.5" fill="url(#rg8)"/>
<circle cx="2261" cy="436.5" r="356.5" fill="url(#rg9)" mask="url(#mask11)"/>
<circle cx="2261" cy="436.5" r="320" fill="none" stroke="#000" stroke-opacity="0.8" stroke-width="2"/>
<circle cx="2261" cy="436.5" r="71" fill="#f0d000" stroke="#000" stroke-opacity="0.85" stroke-width="1.4"/>
<ellipse cx="2144.99" cy="490.595" rx="55" ry="11" fill="url(#rg12)" transform="rotate(245 2144.99 490.595)"/>
<ellipse cx="2258" cy="522.448" rx="22.5" ry="6" fill="url(#rg13)" transform="rotate(182 2258 522.448)"/>
<rect x="2669.6" y="81" width="33.7" height="708" fill="url(#lg14)" stroke="#000" stroke-width="4"/>
<rect x="2690.3" y="211.8" width="13" height="3" fill="#000"/>
<rect x="2690.3" y="355.4" width="13" height="3" fill="#000"/>
<rect x="2690.3" y="499.8" width="13" height="3" fill="#000"/>
<rect x="2690.3" y="644.3" width="13" height="3" fill="#000"/>
<text transform="translate(2728.5 232.8) scale(1.13 1)" font-size="59">20</text>
<text transform="translate(2728.5 376.4) scale(1.13 1)" font-size="59">15</text>
<text transform="translate(2728.5 520.8) scale(1.13 1)" font-size="59">10</text>
<text transform="translate(2728.5 665.3) scale(1.13 1)" font-size="59">5</text>
<text transform="translate(2728.5 808.5) scale(1.13 1)" font-size="59">0</text>
<path d="M2658 16.5L2688 47.5M2688 16.5L2658 47.5" stroke="#000" stroke-width="2.8" fill="none"/>
<text transform="translate(2701.5 49) scale(1.13 1)" font-size="59">10</text>
<rect x="2861.7" y="76.9" width="618.3" height="712.7" fill="url(#lg15)"/>
<rect x="2861.7" y="76.9" width="618.3" height="30.5" fill="#0010e8"/>
<circle cx="3170.85" cy="107.4" r="42" fill="url(#rg18)" clip-path="url(#clip17)"/>
<rect x="2861.7" y="758.8" width="618.3" height="30.8" fill="#000078"/>
<rect x="2874.5" y="107.4" width="592.7" height="651.4" fill="#fff"/>
<rect x="3152.35" y="107.4" width="37" height="58.4" fill="url(#lg16)"/>
<rect x="2903.2" y="165.8" width="535.3" height="593" fill="#800000"/>
<circle cx="3170.85" cy="173.8" r="60" fill="url(#rg20)" clip-path="url(#clip19)"/>
<path d="M2874.5 107.4H3467.2" stroke="#000" stroke-opacity="0.7" stroke-width="2"/>
<path d="M2874.5 165.8H3467.2" stroke="#000" stroke-width="2"/>
<path d="M2874.5 758.8H3467.2" stroke="#000" stroke-width="2.2"/>
<rect x="3112.35" y="760.1" width="117" height="17" fill="#fff"/>
<rect x="2862.5" y="77.7" width="616.7" height="711.1" fill="none" stroke="#000" stroke-opacity="0.6" stroke-width="1.6"/>
<path d="M3170.85 76.9V789.6" stroke="#000" stroke-opacity="0.85" stroke-width="2"/>
<rect x="3512.9" y="81" width="32.9" height="708" fill="url(#lg21)" stroke="#000" stroke-width="4"/>
<rect x="3532.8" y="742.2" width="13" height="3" fill="#000"/>
<rect x="3532.8" y="595.2" width="13" height="3" fill="#000"/>
<rect x="3532.8" y="448.2" width="13" height="3" fill="#000"/>
<rect x="3532.8" y="301.2" width="13" height="3" fill="#000"/>
<rect x="3532.8" y="154.2" width="13" height="3" fill="#000"/>
<text transform="translate(3572.5 763.2) scale(1.13 1)" font-size="59">0</text>
<text transform="translate(3572.5 616.2) scale(1.13 1)" font-size="59">0.5</text>
<text transform="translate(3572.5 469.2) scale(1.13 1)" font-size="59">1.0</text>
<text transform="translate(3572.5 322.2) scale(1.13 1)" font-size="59">1.5</text>
<text transform="translate(3572.5 175.2) scale(1.13 1)" font-size="59">2.0</text>
<text transform="translate(2763 914) scale(1.13 1)" font-size="64">(b)</text>
<circle cx="390" cy="1422" r="370" fill="#fff" stroke="#333" stroke-width="2"/>
<circle cx="390" cy="1422" r="355" fill="url(#rg22)"/>
<circle cx="390" cy="1422" r="355" fill="url(#rg23)" mask="url(#mask25)"/>
<circle cx="390" cy="1422" r="319.5" fill="none" stroke="#000" stroke-opacity="0.8" stroke-width="2"/>
<circle cx="390" cy="1422" r="70.4" fill="#0000f0" stroke="#000" stroke-opacity="0.85" stroke-width="1.4"/>
<ellipse cx="486.995" cy="1366" rx="30" ry="11" fill="url(#rg26)" transform="rotate(60 486.995 1366)"/>
<rect x="792.9" y="1070.9" width="32.9" height="707.1" fill="url(#lg27)" stroke="#000" stroke-width="4"/>
<rect x="812.8" y="1147.4" width="13" height="3" fill="#000"/>
<rect x="812.8" y="1305.2" width="13" height="3" fill="#000"/>
<rect x="812.8" y="1462.9" width="13" height="3" fill="#000"/>
<rect x="812.8" y="1620.7" width="13" height="3" fill="#000"/>
<text transform="translate(851.5 1168.4) scale(1.13 1)" font-size="59">20</text>
<text transform="translate(851.5 1326.2) scale(1.13 1)" font-size="59">15</text>
<text transform="translate(851.5 1483.9) scale(1.13 1)" font-size="59">10</text>
<text transform="translate(851.5 1641.7) scale(1.13 1)" font-size="59">5</text>
<text transform="translate(851.5 1797.5) scale(1.13 1)" font-size="59">0</text>
<path d="M781 1006.5L811 1037.5M811 1006.5L781 1037.5" stroke="#000" stroke-width="2.8" fill="none"/>
<text transform="translate(824.5 1039) scale(1.13 1)" font-size="59">10</text>
<rect x="978" y="1054" width="639" height="737.1" fill="url(#lg28)"/>
<rect x="978" y="1054" width="639" height="31.6" fill="#000080"/>
<circle cx="1297.5" cy="1085.6" r="50" fill="url(#rg32)" clip-path="url(#clip31)"/>
<rect x="978" y="1759.9" width="639" height="31.2" fill="#20ecd0"/>
<rect x="990.8" y="1085.6" width="613.4" height="674.3" fill="#fff"/>
<rect x="1279" y="1085.6" width="37" height="60.6" fill="url(#lg30)"/>
<rect x="1020.2" y="1146.2" width="554.6" height="613.7" fill="url(#lg29)"/>
<circle cx="1297.5" cy="1146.2" r="55" fill="url(#rg34)" clip-path="url(#clip33)"/>
<circle cx="1190.2" cy="1759.9" r="120" fill="url(#rg35)" clip-path="url(#clip33)"/>
<circle cx="1404.8" cy="1759.9" r="120" fill="url(#rg36)" clip-path="url(#clip33)"/>
<path d="M990.8 1085.6H1604.2" stroke="#000" stroke-opacity="0.7" stroke-width="2"/>
<path d="M990.8 1146.2H1604.2" stroke="#000" stroke-width="2"/>
<path d="M990.8 1759.9H1604.2" stroke="#000" stroke-width="2.2"/>
<rect x="1239" y="1761.2" width="117" height="17" fill="#fff"/>
<rect x="978.8" y="1054.8" width="637.4" height="735.5" fill="none" stroke="#000" stroke-opacity="0.6" stroke-width="1.6"/>
<path d="M1297.5 1054V1791.1" stroke="#000" stroke-opacity="0.85" stroke-width="2"/>
<rect x="1641.1" y="1070.9" width="33.4" height="707.8" fill="url(#lg37)" stroke="#000" stroke-width="4"/>
<rect x="1661.5" y="1756.9" width="13" height="3" fill="#000"/>
<rect x="1661.5" y="1690.2" width="13" height="3" fill="#000"/>
<rect x="1661.5" y="1623.5" width="13" height="3" fill="#000"/>
<rect x="1661.5" y="1556.8" width="13" height="3" fill="#000"/>
<rect x="1661.5" y="1490.1" width="13" height="3" fill="#000"/>
<rect x="1661.5" y="1423.4" width="13" height="3" fill="#000"/>
<rect x="1661.5" y="1356.7" width="13" height="3" fill="#000"/>
<rect x="1661.5" y="1290" width="13" height="3" fill="#000"/>
<rect x="1661.5" y="1223.3" width="13" height="3" fill="#000"/>
<rect x="1661.5" y="1156.6" width="13" height="3" fill="#000"/>
<rect x="1661.5" y="1089.9" width="13" height="3" fill="#000"/>
<text transform="translate(1700.5 1777.9) scale(1.13 1)" font-size="59">0</text>
<text transform="translate(1700.5 1644.5) scale(1.13 1)" font-size="59">0.4</text>
<text transform="translate(1700.5 1511.1) scale(1.13 1)" font-size="59">0.8</text>
<text transform="translate(1700.5 1377.7) scale(1.13 1)" font-size="59">1.2</text>
<text transform="translate(1700.5 1244.3) scale(1.13 1)" font-size="59">1.6</text>
<text transform="translate(1700.5 1110.9) scale(1.13 1)" font-size="59">2.0</text>
<text transform="translate(899.5 1904) scale(1.13 1)" font-size="64">(c)</text>
<circle cx="2256.5" cy="1423.5" r="375.5" fill="#fff" stroke="#333" stroke-width="2"/>
<circle cx="2256.5" cy="1423.5" r="360" fill="url(#rg38)"/>
<circle cx="2256.5" cy="1423.5" r="360" fill="url(#rg39)" mask="url(#mask41)"/>
<circle cx="2256.5" cy="1423.5" r="323" fill="none" stroke="#000" stroke-opacity="0.8" stroke-width="2"/>
<circle cx="2256.5" cy="1423.5" r="72.4" fill="#0000f0" stroke="#000" stroke-opacity="0.85" stroke-width="1.4"/>
<ellipse cx="2253.57" cy="1507.45" rx="22.5" ry="6" fill="url(#rg42)" transform="rotate(182 2253.57 1507.45)"/>
<ellipse cx="2159.51" cy="1479.5" rx="35" ry="6" fill="url(#rg43)" transform="rotate(240 2159.51 1479.5)"/>
<rect x="2669.6" y="1070.9" width="33.7" height="707.1" fill="url(#lg44)" stroke="#000" stroke-width="4"/>
<rect x="2690.3" y="1135.4" width="13" height="3" fill="#000"/>
<rect x="2690.3" y="1264.3" width="13" height="3" fill="#000"/>
<rect x="2690.3" y="1391.8" width="13" height="3" fill="#000"/>
<rect x="2690.3" y="1519.8" width="13" height="3" fill="#000"/>
<rect x="2690.3" y="1647.4" width="13" height="3" fill="#000"/>
<text transform="translate(2728.5 1156.4) scale(1.13 1)" font-size="59">10</text>
<text transform="translate(2728.5 1285.3) scale(1.13 1)" font-size="59">8</text>
<text transform="translate(2728.5 1412.8) scale(1.13 1)" font-size="59">6</text>
<text transform="translate(2728.5 1540.8) scale(1.13 1)" font-size="59">4</text>
<text transform="translate(2728.5 1668.4) scale(1.13 1)" font-size="59">2</text>
<text transform="translate(2728.5 1797.5) scale(1.13 1)" font-size="59">0</text>
<path d="M2658 1006.5L2688 1037.5M2688 1006.5L2658 1037.5" stroke="#000" stroke-width="2.8" fill="none"/>
<text transform="translate(2701.5 1039) scale(1.13 1)" font-size="59">10</text>
<rect x="2849.1" y="1058.4" width="633.4" height="729.8" fill="url(#lg45)"/>
<rect x="2849.1" y="1058.4" width="633.4" height="31.6" fill="#0008d8"/>
<rect x="2849.1" y="1758" width="633.4" height="30.2" fill="#a8f040"/>
<g clip-path="url(#clip48)"><ellipse cx="2945.8" cy="1758" rx="60" ry="35" fill="url(#rg49)"/></g>
<g clip-path="url(#clip48)"><ellipse cx="3385.8" cy="1758" rx="60" ry="35" fill="url(#rg50)"/></g>
<g clip-path="url(#clip48)"><ellipse cx="3063.8" cy="1758" rx="60" ry="35" fill="url(#rg51)"/></g>
<g clip-path="url(#clip48)"><ellipse cx="3267.8" cy="1758" rx="60" ry="35" fill="url(#rg52)"/></g>
<rect x="2862.7" y="1090" width="606.2" height="668" fill="#fff"/>
<rect x="3147.3" y="1090" width="37" height="59.5" fill="url(#lg47)"/>
<rect x="2891.7" y="1149.5" width="548.2" height="608.5" fill="url(#lg46)"/>
<g clip-path="url(#clip53)"><ellipse cx="2891.7" cy="1758" rx="260" ry="420" fill="url(#rg54)"/></g>
<g clip-path="url(#clip53)"><ellipse cx="3439.9" cy="1758" rx="260" ry="420" fill="url(#rg55)"/></g>
<g clip-path="url(#clip53)"><ellipse cx="2935.3" cy="1758" rx="85" ry="130" fill="url(#rg56)"/></g>
<g clip-path="url(#clip53)"><ellipse cx="3396.3" cy="1758" rx="85" ry="130" fill="url(#rg57)"/></g>
<g clip-path="url(#clip53)"><ellipse cx="3165.8" cy="1758" rx="165" ry="118" fill="url(#rg58)"/></g>
<g clip-path="url(#clip53)"><ellipse cx="3069.8" cy="1758" rx="70" ry="55" fill="url(#rg59)"/></g>
<g clip-path="url(#clip53)"><ellipse cx="3261.8" cy="1758" rx="70" ry="55" fill="url(#rg60)"/></g>
<path d="M2862.7 1090H3468.9" stroke="#000" stroke-opacity="0.7" stroke-width="2"/>
<path d="M2862.7 1149.5H3468.9" stroke="#000" stroke-width="2"/>
<path d="M2862.7 1758H3468.9" stroke="#000" stroke-width="2.2"/>
<rect x="3107.3" y="1759.3" width="117" height="17" fill="#fff"/>
<rect x="2849.9" y="1059.2" width="631.8" height="728.2" fill="none" stroke="#000" stroke-opacity="0.6" stroke-width="1.6"/>
<path d="M3165.8 1058.4V1788.2" stroke="#000" stroke-opacity="0.85" stroke-width="2"/>
<rect x="3512.9" y="1070.9" width="32.9" height="707.8" fill="url(#lg61)" stroke="#000" stroke-width="4"/>
<rect x="3532.8" y="1696" width="13" height="3" fill="#000"/>
<rect x="3532.8" y="1570" width="13" height="3" fill="#000"/>
<rect x="3532.8" y="1444" width="13" height="3" fill="#000"/>
<rect x="3532.8" y="1318" width="13" height="3" fill="#000"/>
<rect x="3532.8" y="1192" width="13" height="3" fill="#000"/>
<text transform="translate(3572.5 1717) scale(1.13 1)" font-size="59">0</text>
<text transform="translate(3572.5 1591) scale(1.13 1)" font-size="59">0.5</text>
<text transform="translate(3572.5 1465) scale(1.13 1)" font-size="59">1.0</text>
<text transform="translate(3572.5 1339) scale(1.13 1)" font-size="59">1.5</text>
<text transform="translate(3572.5 1213) scale(1.13 1)" font-size="59">2.0</text>
<text transform="translate(2763 1904) scale(1.13 1)" font-size="64">(d)</text>
<circle cx="389.5" cy="2433" r="366.5" fill="#fff" stroke="#333" stroke-width="2"/>
<circle cx="389.5" cy="2433" r="352" fill="url(#rg62)"/>
<circle cx="389.5" cy="2433" r="316" fill="none" stroke="#000" stroke-opacity="0.8" stroke-width="2"/>
<circle cx="389.5" cy="2433" r="70" fill="#0000f0" stroke="#000" stroke-opacity="0.85" stroke-width="1.4"/>
<rect x="792.9" y="2079.8" width="32.9" height="707.1" fill="url(#lg63)" stroke="#000" stroke-width="4"/>
<rect x="812.8" y="2120.7" width="13" height="3" fill="#000"/>
<rect x="812.8" y="2187.3" width="13" height="3" fill="#000"/>
<rect x="812.8" y="2253.9" width="13" height="3" fill="#000"/>
<rect x="812.8" y="2320.5" width="13" height="3" fill="#000"/>
<rect x="812.8" y="2387.1" width="13" height="3" fill="#000"/>
<rect x="812.8" y="2453.7" width="13" height="3" fill="#000"/>
<rect x="812.8" y="2520.3" width="13" height="3" fill="#000"/>
<rect x="812.8" y="2586.9" width="13" height="3" fill="#000"/>
<rect x="812.8" y="2653.5" width="13" height="3" fill="#000"/>
<rect x="812.8" y="2720.1" width="13" height="3" fill="#000"/>
<text transform="translate(851.5 2141.7) scale(1.13 1)" font-size="59">10</text>
<text transform="translate(851.5 2275.1) scale(1.13 1)" font-size="59">8</text>
<text transform="translate(851.5 2408.4) scale(1.13 1)" font-size="59">6</text>
<text transform="translate(851.5 2540.4) scale(1.13 1)" font-size="59">4</text>
<text transform="translate(851.5 2673.7) scale(1.13 1)" font-size="59">2</text>
<text transform="translate(851.5 2806.5) scale(1.13 1)" font-size="59">0</text>
<path d="M781 2015.5L811 2046.5M811 2015.5L781 2046.5" stroke="#000" stroke-width="2.8" fill="none"/>
<text transform="translate(824.5 2048) scale(1.13 1)" font-size="59">10</text>
<rect x="980.6" y="2069.1" width="630.2" height="726.8" fill="url(#lg64)"/>
<rect x="980.6" y="2069.1" width="630.2" height="32" fill="#0000b0"/>
<rect x="980.6" y="2765" width="630.2" height="30.9" fill="#c80000"/>
<circle cx="1115.7" cy="2780.45" r="110" fill="url(#rg66)" clip-path="url(#clip65)"/>
<circle cx="1460.7" cy="2780.45" r="110" fill="url(#rg67)" clip-path="url(#clip65)"/>
<rect x="993.4" y="2101.1" width="604.6" height="663.9" fill="#fff"/>
<rect x="1277.2" y="2101.1" width="37" height="58.7" fill="#0000a0"/>
<rect x="1022.8" y="2159.8" width="545.8" height="605.2" fill="#00009a"/>
<circle cx="1130.8" cy="2765" r="110" fill="url(#rg69)" clip-path="url(#clip68)"/>
<circle cx="1464.6" cy="2765" r="110" fill="url(#rg70)" clip-path="url(#clip68)"/>
<path d="M993.4 2101.1H1598" stroke="#000" stroke-opacity="0.7" stroke-width="2"/>
<path d="M993.4 2159.8H1598" stroke="#000" stroke-width="2"/>
<path d="M993.4 2765H1598" stroke="#000" stroke-width="2.2"/>
<rect x="1237.2" y="2766.3" width="117" height="17" fill="#fff"/>
<rect x="981.4" y="2069.9" width="628.6" height="725.2" fill="none" stroke="#000" stroke-opacity="0.6" stroke-width="1.6"/>
<path d="M1295.7 2069.1V2795.9" stroke="#000" stroke-opacity="0.85" stroke-width="2"/>
<rect x="1641.1" y="2079.8" width="33.4" height="707.7" fill="url(#lg71)" stroke="#000" stroke-width="4"/>
<rect x="1661.5" y="2752.5" width="13" height="3" fill="#000"/>
<rect x="1661.5" y="2597.1" width="13" height="3" fill="#000"/>
<rect x="1661.5" y="2441.7" width="13" height="3" fill="#000"/>
<rect x="1661.5" y="2286.3" width="13" height="3" fill="#000"/>
<rect x="1661.5" y="2130.9" width="13" height="3" fill="#000"/>
<text transform="translate(1700.5 2773.5) scale(1.13 1)" font-size="59">0</text>
<text transform="translate(1700.5 2618.1) scale(1.13 1)" font-size="59">0.5</text>
<text transform="translate(1700.5 2462.7) scale(1.13 1)" font-size="59">1.0</text>
<text transform="translate(1700.5 2307.3) scale(1.13 1)" font-size="59">1.5</text>
<text transform="translate(1700.5 2151.9) scale(1.13 1)" font-size="59">2.0</text>
<text transform="translate(899.5 2902) scale(1.13 1)" font-size="64">(e)</text>
<circle cx="2249" cy="2432" r="365" fill="#fff" stroke="#333" stroke-width="2"/>
<circle cx="2249" cy="2432" r="351.5" fill="url(#rg72)"/>
<circle cx="2249" cy="2432" r="314.7" fill="none" stroke="#000" stroke-opacity="0.6" stroke-width="2"/>
<circle cx="2249" cy="2432" r="68.6" fill="#000080" stroke="#000" stroke-opacity="0.85" stroke-width="0.5"/>
<circle cx="2246.5" cy="2432.5" r="223.5" fill="none" stroke="#000" stroke-opacity="0.3" stroke-width="1"/>
<path d="M2034 2368 A129.5 129.5 0 0 0 2034 2489 A459.5 459.5 0 0 1 2034 2368Z" fill="url(#lg73)"/>
<rect x="2669.6" y="2079.8" width="33.7" height="707.1" fill="url(#lg74)" stroke="#000" stroke-width="4"/>
<rect x="2690.3" y="2109.6" width="13" height="3" fill="#000"/>
<rect x="2690.3" y="2194.05" width="13" height="3" fill="#000"/>
<rect x="2690.3" y="2278.5" width="13" height="3" fill="#000"/>
<rect x="2690.3" y="2362.95" width="13" height="3" fill="#000"/>
<rect x="2690.3" y="2447.4" width="13" height="3" fill="#000"/>
<rect x="2690.3" y="2531.85" width="13" height="3" fill="#000"/>
<rect x="2690.3" y="2616.3" width="13" height="3" fill="#000"/>
<rect x="2690.3" y="2700.75" width="13" height="3" fill="#000"/>
<text transform="translate(2728.5 2130.6) scale(1.13 1)" font-size="59">40</text>
<text transform="translate(2728.5 2299.5) scale(1.13 1)" font-size="59">30</text>
<text transform="translate(2728.5 2468.4) scale(1.13 1)" font-size="59">20</text>
<text transform="translate(2728.5 2637.3) scale(1.13 1)" font-size="59">10</text>
<text transform="translate(2728.5 2805.5) scale(1.13 1)" font-size="59">0</text>
<path d="M2658 2015.5L2688 2046.5M2688 2015.5L2658 2046.5" stroke="#000" stroke-width="2.8" fill="none"/>
<text transform="translate(2701.5 2048) scale(1.13 1)" font-size="59">10</text>
<rect x="2846.2" y="2065.1" width="636.7" height="733.7" fill="url(#lg75)"/>
<rect x="2846.2" y="2065.1" width="636.7" height="31.2" fill="#0090f0"/>
<rect x="2846.2" y="2767.2" width="636.7" height="31.6" fill="#f04000"/>
<circle cx="2884.55" cy="2775.2" r="60" fill="url(#rg79)" clip-path="url(#clip78)"/>
<circle cx="3014.55" cy="2775.2" r="60" fill="url(#rg80)" clip-path="url(#clip78)"/>
<circle cx="3314.55" cy="2775.2" r="60" fill="url(#rg81)" clip-path="url(#clip78)"/>
<circle cx="3444.55" cy="2775.2" r="60" fill="url(#rg82)" clip-path="url(#clip78)"/>
<rect x="2858.7" y="2096.3" width="611.7" height="670.9" fill="#fff"/>
<rect x="3146.05" y="2096.3" width="37" height="60.6" fill="url(#lg77)"/>
<rect x="2888.4" y="2156.9" width="552.3" height="610.3" fill="url(#lg76)"/>
<circle cx="2911" cy="2767.2" r="80" fill="url(#rg84)" clip-path="url(#clip83)"/>
<circle cx="3042" cy="2767.2" r="80" fill="url(#rg85)" clip-path="url(#clip83)"/>
<circle cx="3279.6" cy="2767.2" r="80" fill="url(#rg86)" clip-path="url(#clip83)"/>
<circle cx="3407" cy="2767.2" r="80" fill="url(#rg87)" clip-path="url(#clip83)"/>
<path d="M2858.7 2096.3H3470.4" stroke="#000" stroke-opacity="0.7" stroke-width="2"/>
<path d="M2858.7 2156.9H3470.4" stroke="#000" stroke-width="2"/>
<path d="M2858.7 2767.2H3470.4" stroke="#000" stroke-width="2.2"/>
<rect x="3106.05" y="2768.5" width="117" height="17" fill="#fff"/>
<rect x="2847" y="2065.9" width="635.1" height="732.1" fill="none" stroke="#000" stroke-opacity="0.6" stroke-width="1.6"/>
<path d="M3164.55 2065.1V2798.8" stroke="#000" stroke-opacity="0.85" stroke-width="2"/>
<rect x="3512.9" y="2079.8" width="32.9" height="707.7" fill="url(#lg88)" stroke="#000" stroke-width="4"/>
<rect x="3532.8" y="2722.5" width="13" height="3" fill="#000"/>
<rect x="3532.8" y="2600.3" width="13" height="3" fill="#000"/>
<rect x="3532.8" y="2478.1" width="13" height="3" fill="#000"/>
<rect x="3532.8" y="2355.9" width="13" height="3" fill="#000"/>
<rect x="3532.8" y="2233.7" width="13" height="3" fill="#000"/>
<rect x="3532.8" y="2111.5" width="13" height="3" fill="#000"/>
<text transform="translate(3572.5 2621.3) scale(1.13 1)" font-size="59">0</text>
<text transform="translate(3572.5 2499.1) scale(1.13 1)" font-size="59">0.5</text>
<text transform="translate(3572.5 2376.9) scale(1.13 1)" font-size="59">1.0</text>
<text transform="translate(3572.5 2254.7) scale(1.13 1)" font-size="59">1.5</text>
<text transform="translate(3572.5 2132.5) scale(1.13 1)" font-size="59">2.0</text>
<rect x="3581" y="2725.8" width="39" height="2.6" fill="#000"/>
<text transform="translate(3631 2743.5) scale(1.13 1)" font-size="59">0.5</text>
<text transform="translate(2768 2902) scale(1.13 1)" font-size="64">(f)</text>
</svg></body></html>
